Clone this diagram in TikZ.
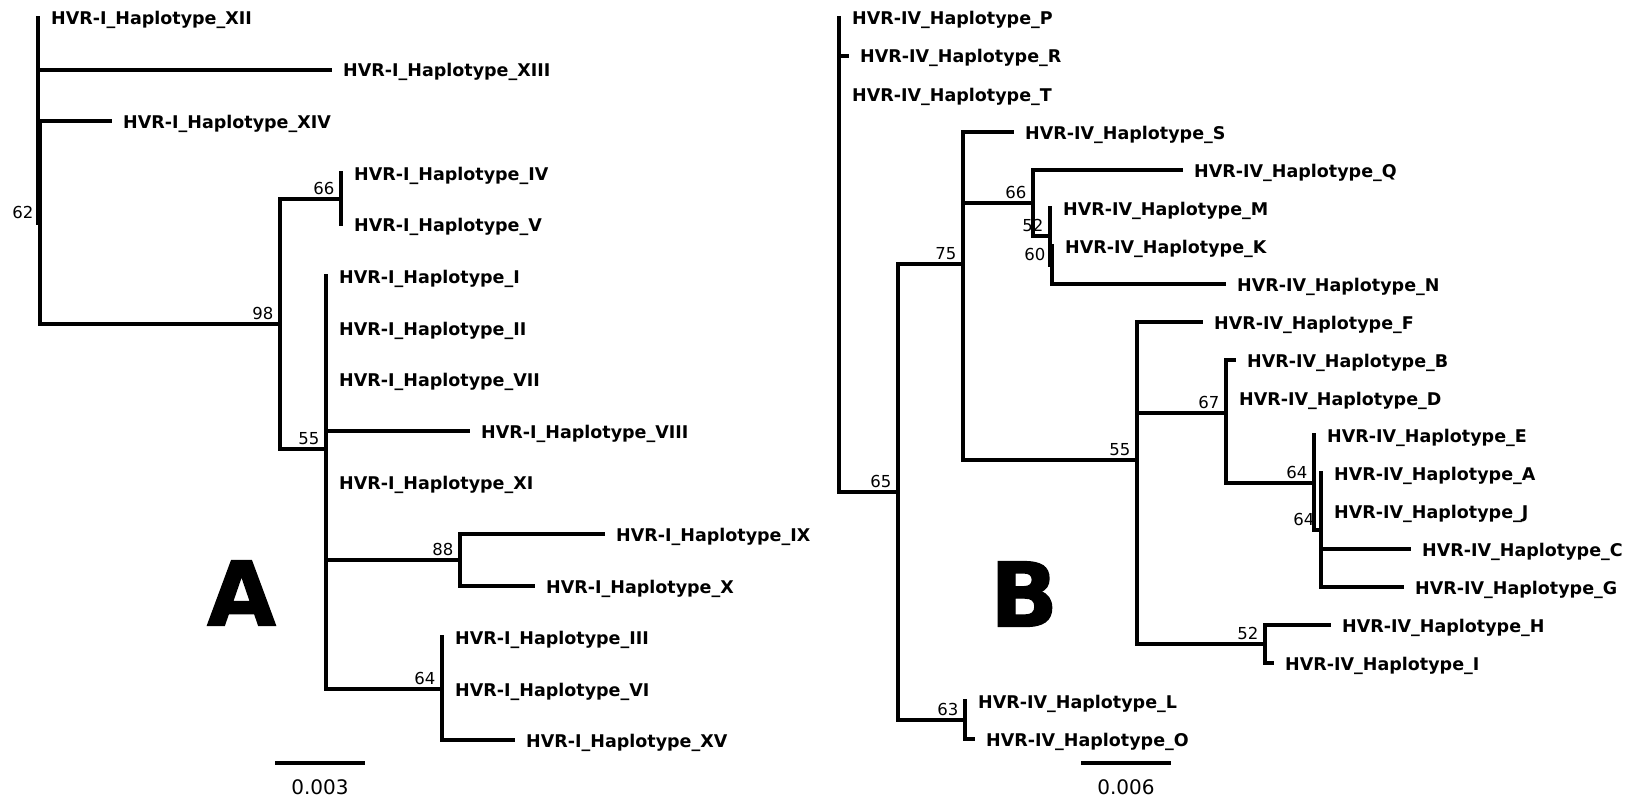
\documentclass[tikz,border=0pt]{standalone}
\usepackage{fontspec}
\usetikzlibrary{calc}
\setmainfont{DejaVu Sans}
\newfontfamily\heavyfont[BoldFeatures={FakeBold=1.5}]{DejaVu Sans}
\newcommand\leaffont{\bfseries\fontsize{17.5bp}{20bp}\selectfont}
\newcommand\bootfont{\fontsize{16.5bp}{18bp}\selectfont}
\newcommand\sclfont{\fontsize{20bp}{22bp}\selectfont}
\newcommand\bigletter{\heavyfont\bfseries\fontsize{89bp}{89bp}\selectfont}
\tikzset{
  br/.style={line width=4bp, line cap=rect, line join=miter},
  leaf/.style={anchor=base west, inner sep=0pt, font=\leaffont, xshift=13bp, yshift=-7bp},
  boot/.style={anchor=base east, inner sep=0pt, font=\bootfont, xshift=-6.5bp, yshift=4.5bp},
  scl/.style={inner sep=0pt, font=\sclfont, yshift=-24bp},
  panel/.style={inner sep=0pt, font=\bigletter},
}
\begin{document}
\begin{tikzpicture}[x=1bp,y=-1bp]
\useasboundingbox (0,0) rectangle (1637,800);
% ================= Tree A =================
\coordinate (rootA) at (38,120);
\coordinate (aXII) at (38,18);
\coordinate (aXIII) at (330,70);
\coordinate (n62) at (40,223);
\coordinate (aXIV) at (110,121);
\coordinate (n98) at (280,324);
\coordinate (n66) at (341,199);
\coordinate (aIV) at (341,173);
\coordinate (aV) at (341,224);
\coordinate (n55) at (326,449);
\coordinate (aI) at (326,276);
\coordinate (aII) at (326,328);
\coordinate (aVII) at (326,379);
\coordinate (aVIII) at (468,431);
\coordinate (aXI) at (326,482);
\coordinate (n88) at (460,560);
\coordinate (aIX) at (603,534);
\coordinate (aX) at (533,586);
\coordinate (n64) at (442,689);
\coordinate (aIII) at (442,637);
\coordinate (aVI) at (442,689);
\coordinate (aXV) at (513,740);

\draw[br] (rootA) |- (aXII);
\draw[br] (rootA) |- (aXIII);
\draw[br] (rootA) |- (n62);
\draw[br] (n62) |- (aXIV);
\draw[br] (n62) |- (n98);
\draw[br] (n98) |- (n66);
\draw[br] (n98) |- (n55);
\draw[br] (n66) |- (aIV);
\draw[br] (n66) |- (aV);
\draw[br] (n55) |- (aI);
\draw[br] (n55) |- (aII);
\draw[br] (n55) |- (aVII);
\draw[br] (n55) |- (aVIII);
\draw[br] (n55) |- (aXI);
\draw[br] (n55) |- (n88);
\draw[br] (n55) |- (n64);
\draw[br] (n88) |- (aIX);
\draw[br] (n88) |- (aX);
\draw[br] (n64) |- (aIII);
\draw[br] (n64) |- (aVI);
\draw[br] (n64) |- (aXV);

\node[leaf] (lXII) at (aXII) {HVR-I\_Haplotype\_XII};
\node[leaf] (lXIII) at (aXIII) {HVR-I\_Haplotype\_XIII};
\node[leaf] (lXIV) at (aXIV) {HVR-I\_Haplotype\_XIV};
\node[leaf] (lIV) at (aIV) {HVR-I\_Haplotype\_IV};
\node[leaf] (lV) at (aV) {HVR-I\_Haplotype\_V};
\node[leaf] (lI) at (aI) {HVR-I\_Haplotype\_I};
\node[leaf] (lII) at (aII) {HVR-I\_Haplotype\_II};
\node[leaf] (lVII) at (aVII) {HVR-I\_Haplotype\_VII};
\node[leaf] (lVIII) at (aVIII) {HVR-I\_Haplotype\_VIII};
\node[leaf] (lXI) at (aXI) {HVR-I\_Haplotype\_XI};
\node[leaf] (lIX) at (aIX) {HVR-I\_Haplotype\_IX};
\node[leaf] (lX) at (aX) {HVR-I\_Haplotype\_X};
\node[leaf] (lIII) at (aIII) {HVR-I\_Haplotype\_III};
\node[leaf] (lVI) at (aVI) {HVR-I\_Haplotype\_VI};
\node[leaf] (lXV) at (aXV) {HVR-I\_Haplotype\_XV};

\node[boot] (b62) at (n62) {62};
\node[boot] (b98) at (n98) {98};
\node[boot] (b66) at (n66) {66};
\node[boot] (b55) at (n55) {55};
\node[boot] (b88) at (n88) {88};
\node[boot] (b64) at (n64) {64};

\coordinate (sa1) at (275,763);
\coordinate (sa2) at (365,763);
\draw[br, line cap=butt] (sa1) -- (sa2);
\node[scl] (sal) at ($(sa1)!0.5!(sa2)$) {0.003};
\node[panel] (pA) at (241.5,593) {A};

% ================= Tree B =================
\coordinate (rootB) at (839,165);
\coordinate (bP) at (839,18);
\coordinate (bR) at (847,56);
\coordinate (bT) at (839,94);
\coordinate (n65) at (898,492);
\coordinate (n75) at (963,264);
\coordinate (bS) at (1012,132);
\coordinate (n66b) at (1033,203);
\coordinate (bQ) at (1181,170);
\coordinate (n52a) at (1050,236);
\coordinate (bM) at (1050,208);
\coordinate (n60) at (1052,265);
\coordinate (bK) at (1052,246);
\coordinate (bN) at (1224,284);
\coordinate (n55b) at (1137,460);
\coordinate (bF) at (1201,322);
\coordinate (n67) at (1226,413);
\coordinate (bB) at (1234,360);
\coordinate (bD) at (1226,398);
\coordinate (n64u) at (1314,483);
\coordinate (bE) at (1314,435);
\coordinate (n64l) at (1321,530);
\coordinate (bA) at (1321,473);
\coordinate (bJ) at (1321,511);
\coordinate (bC) at (1409,549);
\coordinate (bG) at (1402,587);
\coordinate (n52b) at (1265,644);
\coordinate (bH) at (1329,625);
\coordinate (bI) at (1272,663);
\coordinate (n63) at (965,720);
\coordinate (bL) at (965,701);
\coordinate (bO) at (973,739);

\draw[br] (rootB) |- (bP);
\draw[br] (rootB) |- (bR);
\draw[br] (rootB) |- (bT);
\draw[br] (rootB) |- (n65);
\draw[br] (n65) |- (n75);
\draw[br] (n65) |- (n63);
\draw[br] (n75) |- (bS);
\draw[br] (n75) |- (n66b);
\draw[br] (n75) |- (n55b);
\draw[br] (n66b) |- (bQ);
\draw[br] (n66b) |- (n52a);
\draw[br] (n52a) |- (bM);
\draw[br] (n52a) |- (n60);
\draw[br] (n60) |- (bK);
\draw[br] (n60) |- (bN);
\draw[br] (n55b) |- (bF);
\draw[br] (n55b) |- (n67);
\draw[br] (n55b) |- (n52b);
\draw[br] (n67) |- (bB);
\draw[br] (n67) |- (bD);
\draw[br] (n67) |- (n64u);
\draw[br] (n64u) |- (bE);
\draw[br] (n64u) |- (n64l);
\draw[br] (n64l) |- (bA);
\draw[br] (n64l) |- (bJ);
\draw[br] (n64l) |- (bC);
\draw[br] (n64l) |- (bG);
\draw[br] (n52b) |- (bH);
\draw[br] (n52b) |- (bI);
\draw[br] (n63) |- (bL);
\draw[br] (n63) |- (bO);

\node[leaf] (lP) at (bP) {HVR-IV\_Haplotype\_P};
\node[leaf] (lR) at (bR) {HVR-IV\_Haplotype\_R};
\node[leaf] (lT) at (bT) {HVR-IV\_Haplotype\_T};
\node[leaf] (lS) at (bS) {HVR-IV\_Haplotype\_S};
\node[leaf] (lQ) at (bQ) {HVR-IV\_Haplotype\_Q};
\node[leaf] (lM) at (bM) {HVR-IV\_Haplotype\_M};
\node[leaf] (lK) at (bK) {HVR-IV\_Haplotype\_K};
\node[leaf] (lN) at (bN) {HVR-IV\_Haplotype\_N};
\node[leaf] (lF) at (bF) {HVR-IV\_Haplotype\_F};
\node[leaf] (lB) at (bB) {HVR-IV\_Haplotype\_B};
\node[leaf] (lD) at (bD) {HVR-IV\_Haplotype\_D};
\node[leaf] (lE) at (bE) {HVR-IV\_Haplotype\_E};
\node[leaf] (lA) at (bA) {HVR-IV\_Haplotype\_A};
\node[leaf] (lJ) at (bJ) {HVR-IV\_Haplotype\_J};
\node[leaf] (lC) at (bC) {HVR-IV\_Haplotype\_C};
\node[leaf] (lG) at (bG) {HVR-IV\_Haplotype\_G};
\node[leaf] (lH) at (bH) {HVR-IV\_Haplotype\_H};
\node[leaf] (lI2) at (bI) {HVR-IV\_Haplotype\_I};
\node[leaf] (lL) at (bL) {HVR-IV\_Haplotype\_L};
\node[leaf] (lO) at (bO) {HVR-IV\_Haplotype\_O};

\node[boot] (b65) at (n65) {65};
\node[boot] (b75) at (n75) {75};
\node[boot] (b66b) at (n66b) {66};
\node[boot] (b52a) at (n52a) {52};
\node[boot] (b60) at (n60) {60};
\node[boot] (b55b) at (n55b) {55};
\node[boot] (b67) at (n67) {67};
\node[boot] (b64u) at (n64u) {64};
\node[boot] (b64l) at (n64l) {64};
\node[boot] (b52b) at (n52b) {52};
\node[boot] (b63) at (n63) {63};

\coordinate (sb1) at (1081,763);
\coordinate (sb2) at (1171,763);
\draw[br, line cap=butt] (sb1) -- (sb2);
\node[scl] (sbl) at ($(sb1)!0.5!(sb2)$) {0.006};
\node[panel] (pB) at (1024,594) {B};
\end{tikzpicture}
\end{document}
